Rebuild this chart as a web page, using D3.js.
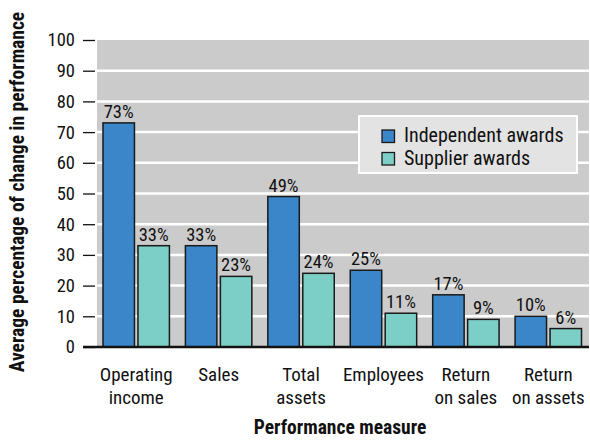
<!DOCTYPE html>
<html><head><meta charset="utf-8">
<script src="https://cdn.jsdelivr.net/npm/d3@7"></script>
<style>
body{margin:0;background:#fff;}
text{font-family:"Liberation Sans Narrow","Roboto Condensed","Arial Narrow",Roboto,sans-serif;fill:#111;}
</style></head><body>
<svg id="c" width="590" height="441"></svg>
<script>
const categories = [["Operating","income"],["Sales"],["Total","assets"],["Employees"],["Return","on sales"],["Return","on assets"]];
const independent = [73,33,49,25,17,10];
const supplier = [33,23,24,11,9,6];
const seriesNames = ["Independent awards","Supplier awards"];
const yTicks = [0,10,20,30,40,50,60,70,80,90,100];

const colors = ["#3a86c8","#7ccfc7"];
const svg = d3.select("#c");
const pLeft = 97, pRight = 589, pTop = 40, pBottom = 347;

const y = d3.scaleLinear().domain([0,100]).range([pBottom, pTop]);
const x = d3.scaleBand().domain(categories.map((d,i)=>i)).range([95, 589.5]).paddingInner(0).paddingOuter(0);
const xs = d3.scaleBand().domain([0,1]).range([8, x.bandwidth()-8]).paddingInner(0.1);

// background
svg.append("rect").attr("x",pLeft).attr("y",pTop).attr("width",pRight-pLeft).attr("height",pBottom-pTop).attr("fill","#cbcbcb");
// gridlines
svg.append("g").selectAll("line").data(yTicks.slice(1,-1)).join("line")
  .attr("x1",pLeft).attr("x2",pRight).attr("y1",d=>y(d)).attr("y2",d=>y(d))
  .attr("stroke","#fff").attr("stroke-width",2.5);

// y axis
const ya = svg.append("g").attr("transform",`translate(${pLeft-2},0)`)
  .call(d3.axisLeft(y).tickValues(yTicks).tickSize(12).tickPadding(8));
ya.select(".domain").remove();
ya.selectAll(".tick line").attr("stroke","#111").attr("stroke-width",1.3);
ya.selectAll(".tick text").attr("font-size",18.5).attr("fill","#111")
  .style("font-family",'"Liberation Sans Narrow","Roboto Condensed",Roboto,sans-serif');

// bars
const data = categories.map((c,i)=>({i, vals:[independent[i], supplier[i]]}));
const g = svg.append("g");
data.forEach(d=>{
  d.vals.forEach((v,s)=>{
    const bx = x(d.i)+xs(s);
    g.append("rect").attr("x",bx).attr("y",y(v)).attr("width",xs.bandwidth()).attr("height",y(0)-y(v))
      .attr("fill",colors[s]).attr("stroke","#1a1a1a").attr("stroke-width",1.5);
    g.append("text").attr("x",bx+xs.bandwidth()/2).attr("y",y(v)-5).attr("text-anchor","middle")
      .attr("font-size",18.5).text(v+"%");
  });
});

// baseline
svg.append("line").attr("x1",83).attr("x2",pRight).attr("y1",pBottom).attr("y2",pBottom)
  .attr("stroke","#111").attr("stroke-width",2.5);

// x labels
categories.forEach((c,i)=>{
  const t = svg.append("text").attr("text-anchor","middle").attr("font-size",19);
  c.forEach((line,k)=>{
    t.append("tspan").attr("x",x(i)+x.bandwidth()/2).attr("y",381+k*22.5).text(line);
  });
});

// axis titles
svg.append("text").attr("x",340).attr("y",434).attr("text-anchor","middle")
  .attr("font-size",19.5).attr("font-weight","bold").text("Performance measure");
svg.append("text").attr("transform","translate(24,192) rotate(-90)").attr("text-anchor","middle")
  .attr("font-size",19.5).attr("font-weight","bold").text("Average percentage of change in performance");

// legend
const lg = svg.append("g");
lg.append("rect").attr("x",359).attr("y",116).attr("width",218).attr("height",57)
  .attr("fill","#e3e3e3").attr("stroke","#fff").attr("stroke-width",2);
seriesNames.forEach((n,i)=>{
  lg.append("rect").attr("x",382).attr("y",130+i*22.5).attr("width",12.5).attr("height",12.5)
    .attr("fill",colors[i]).attr("stroke","#1a1a1a").attr("stroke-width",1.3);
  lg.append("text").attr("x",404).attr("y",142+i*22.5).attr("font-size",20).text(n);
});
</script>
</body></html>
